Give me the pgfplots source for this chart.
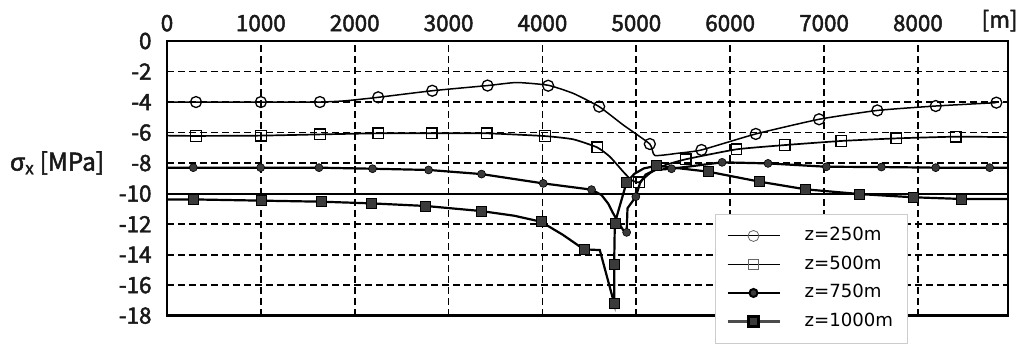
\documentclass[border=0pt]{standalone}
\usepackage{fontspec}
\setmainfont{Noto Sans CJK KR}
\newfontfamily\tickfont[FakeBold=2]{Noto Sans CJK KR}
\newfontfamily\legfont{DejaVu Sans}
\newfontfamily\grkfont[FakeBold=2]{Liberation Sans}
\usepackage{pgfplots}
\pgfplotsset{compat=1.18}
\definecolor{fillgray}{HTML}{3A3A3A}
\begin{document}
\begin{tikzpicture}
\begin{axis}[
  name=ax,
  scale only axis,
  width=841bp, height=274.7bp,
  xmin=0, xmax=8960, ymin=-18, ymax=0,
  xticklabel pos=upper,
  xtick={0,1000,2000,3000,4000,5000,6000,7000,8000},
  xticklabels={0,1000,2000,3000,4000,5000,6000,7000,8000},
  extra x ticks={8870},
  extra x tick labels={{[m]}},
  extra x tick style={grid=none},
  ytick={0,-2,-4,-6,-8,-10,-12,-14,-16,-18},
  yticklabels={0,-2,-4,-6,-8,-10,-12,-14,-16,-18},
  extra y ticks={-10},
  extra y tick labels={},
  extra y tick style={grid=major, major grid style={solid, black, line width=2.2bp}},
  major tick length=0pt,
  tick style={draw=none},
  grid=major,
  major grid style={black, line width=1.7bp, dash pattern=on 7bp off 4bp},
  axis line style={black, line width=2.5bp},
  ticklabel style={font=\tickfont\fontsize{22.5}{26}\selectfont, text=black!90},
  xticklabel style={yshift=6bp},
  yticklabel style={xshift=-12bp},
  legend style={at={(0.6516,0.370)}, anchor=north west, draw=gray!40, line width=0.8bp, fill=white,
    font=\legfont\fontsize{18.2}{22}\selectfont, inner xsep=11bp, inner ysep=9.5bp, row sep=4.5bp,
    column sep=21bp, nodes={inner sep=3bp, text height=14bp, text depth=4bp}},
  legend cell align=left,
  legend image code/.code={\draw[mark repeat=2,mark phase=2,#1] plot coordinates {(0bp,0bp) (26bp,0bp) (52bp,0bp)};},
]
\addlegendimage{black, line width=1.0bp, mark=o, mark size=5.5bp, mark options={solid, line width=0.8bp, draw=gray!80!black, fill=white}}
\addlegendentry{z=250m}
\addlegendimage{black, line width=1.0bp, mark=square, mark size=5.3bp, mark options={solid, line width=0.8bp, draw=gray!80!black, fill=white}}
\addlegendentry{z=500m}
\addlegendimage{black, line width=2.0bp, mark=*, mark size=4bp, mark options={solid, draw=black, fill=fillgray}}
\addlegendentry{z=750m}
\addlegendimage{black!70, line width=2.2bp, mark=square*, mark size=5bp, mark options={solid, draw=black, fill=fillgray}}
\addlegendentry{z=1000m}

% z=250m line
\addplot[forget plot, black, line width=1.5bp, smooth, tension=0.3] coordinates {
(0,-4.0) (309,-4.0) (1000,-4.0) (1629,-4.0) (1900,-3.92) (2250,-3.69) (2826,-3.26) (3415,-2.92)
(3724,-2.72) (4061,-2.9) (4327,-3.43) (4604,-4.3) (4860,-5.5) (5144,-6.75) (5197,-7.5) (5450,-7.35)
(5694,-7.14) (6273,-6.09) (6947,-5.13) (7568,-4.55) (8190,-4.26) (8836,-4.04)};
% z=500m line
\addplot[forget plot, black, line width=1.7bp, smooth, tension=0.3] coordinates {
(0,-6.2) (309,-6.22) (1000,-6.2) (1629,-6.12) (2250,-6.05) (2819,-6.05) (3405,-6.05) (4026,-6.23)
(4327,-6.44) (4583,-6.97) (4718,-7.58) (4860,-8.56) (4948,-9.11) (5030,-9.26) (5150,-8.65) (5300,-8.15)
(5527,-7.75) (6067,-7.1) (6581,-6.82) (7185,-6.55) (7770,-6.38) (8403,-6.27) (8960,-6.3)};
% z=750m line
\addplot[forget plot, black, line width=2.2bp] coordinates {
(0,-8.3) (280,-8.3) (998,-8.3) (1619,-8.3) (2190,-8.37) (2787,-8.45) (3351,-8.72) (4008,-9.33)
(4523,-9.74) (4629,-10.09) (4700,-10.65) (4753,-11.29) (4810,-11.9) (4860,-12.39) (4897,-12.54)
(4906,-10.96) (4995,-10.2) (5040,-9.3) (5100,-8.75) (5200,-8.45) (5375,-8.37) (5914,-7.95)
(6403,-8.02) (7025,-8.24) (7611,-8.26) (8190,-8.3) (8765,-8.3) (8960,-8.3)};
% z=1000m line
\addplot[forget plot, black, line width=2.2bp] coordinates {
(0,-10.38) (280,-10.38) (1000,-10.46) (1647,-10.53) (2180,-10.64) (2755,-10.81) (3344,-11.14)
(3700,-11.45) (3983,-11.84) (4220,-12.71) (4441,-13.65) (4611,-13.7) (4764,-17.19) (4764,-14.63)
(4771,-11.95) (4896,-9.26) (4980,-8.7) (5080,-8.35) (5215,-8.17) (5765,-8.56) (6315,-9.22)
(6805,-9.72) (7380,-10.03) (7948,-10.24) (8463,-10.35) (8960,-10.35)};

% markers
\addplot[forget plot, only marks, mark=o, mark size=5.5bp, mark options={line width=1.3bp, draw=black, fill=white}] coordinates {
(309,-4.0) (1000,-4.0) (1629,-4.0) (2250,-3.69) (2826,-3.26) (3415,-2.92) (4061,-2.93) (4604,-4.3)
(5144,-6.75) (5694,-7.14) (6273,-6.09) (6947,-5.13) (7568,-4.55) (8190,-4.26) (8836,-4.04)};
\addplot[forget plot, only marks, mark=square, mark size=5.3bp, mark options={line width=1.3bp, draw=black, fill=white}] coordinates {
(309,-6.22) (1000,-6.2) (1629,-6.12) (2250,-6.05) (2819,-6.05) (3405,-6.05) (4026,-6.23) (4583,-6.97)
(5030,-9.26) (5527,-7.75) (6067,-7.1) (6581,-6.82) (7185,-6.55) (7770,-6.38) (8403,-6.27)};
\addplot[forget plot, only marks, mark=*, mark size=4bp, mark options={draw=black, fill=fillgray, line width=0.6bp}] coordinates {
(280,-8.3) (998,-8.3) (1619,-8.3) (2190,-8.37) (2787,-8.45) (3351,-8.72) (4008,-9.33) (4523,-9.74)
(4897,-12.54) (4995,-10.2) (5375,-8.37) (5914,-7.95) (6403,-8.02) (7025,-8.24) (7611,-8.26) (8190,-8.3) (8765,-8.3)};
\addplot[forget plot, only marks, mark=square*, mark size=5bp, mark options={draw=black, fill=fillgray, line width=0.6bp}] coordinates {
(280,-10.38) (1000,-10.46) (1647,-10.53) (2180,-10.64) (2755,-10.81) (3344,-11.14) (3983,-11.84)
(4441,-13.65) (4764,-17.19) (4764,-14.63) (4771,-11.95) (4896,-9.26) (5215,-8.17) (5765,-8.56)
(6315,-9.22) (6805,-9.72) (7380,-10.03) (7948,-10.24) (8463,-10.35)};
\end{axis}
\node[anchor=west, font=\tickfont\fontsize{24.5}{28}\selectfont, text=black!90, inner sep=0pt] at ([xshift=-157bp,yshift=152.7bp]ax.south west) {{\grkfont σ}\textsubscript{x} [MPa]};
\pgfresetboundingbox
\path[use as bounding box] ([xshift=-167bp,yshift=-28.3bp]ax.south west) rectangle ([xshift=11bp,yshift=41bp]ax.north east);
\end{tikzpicture}
\end{document}
